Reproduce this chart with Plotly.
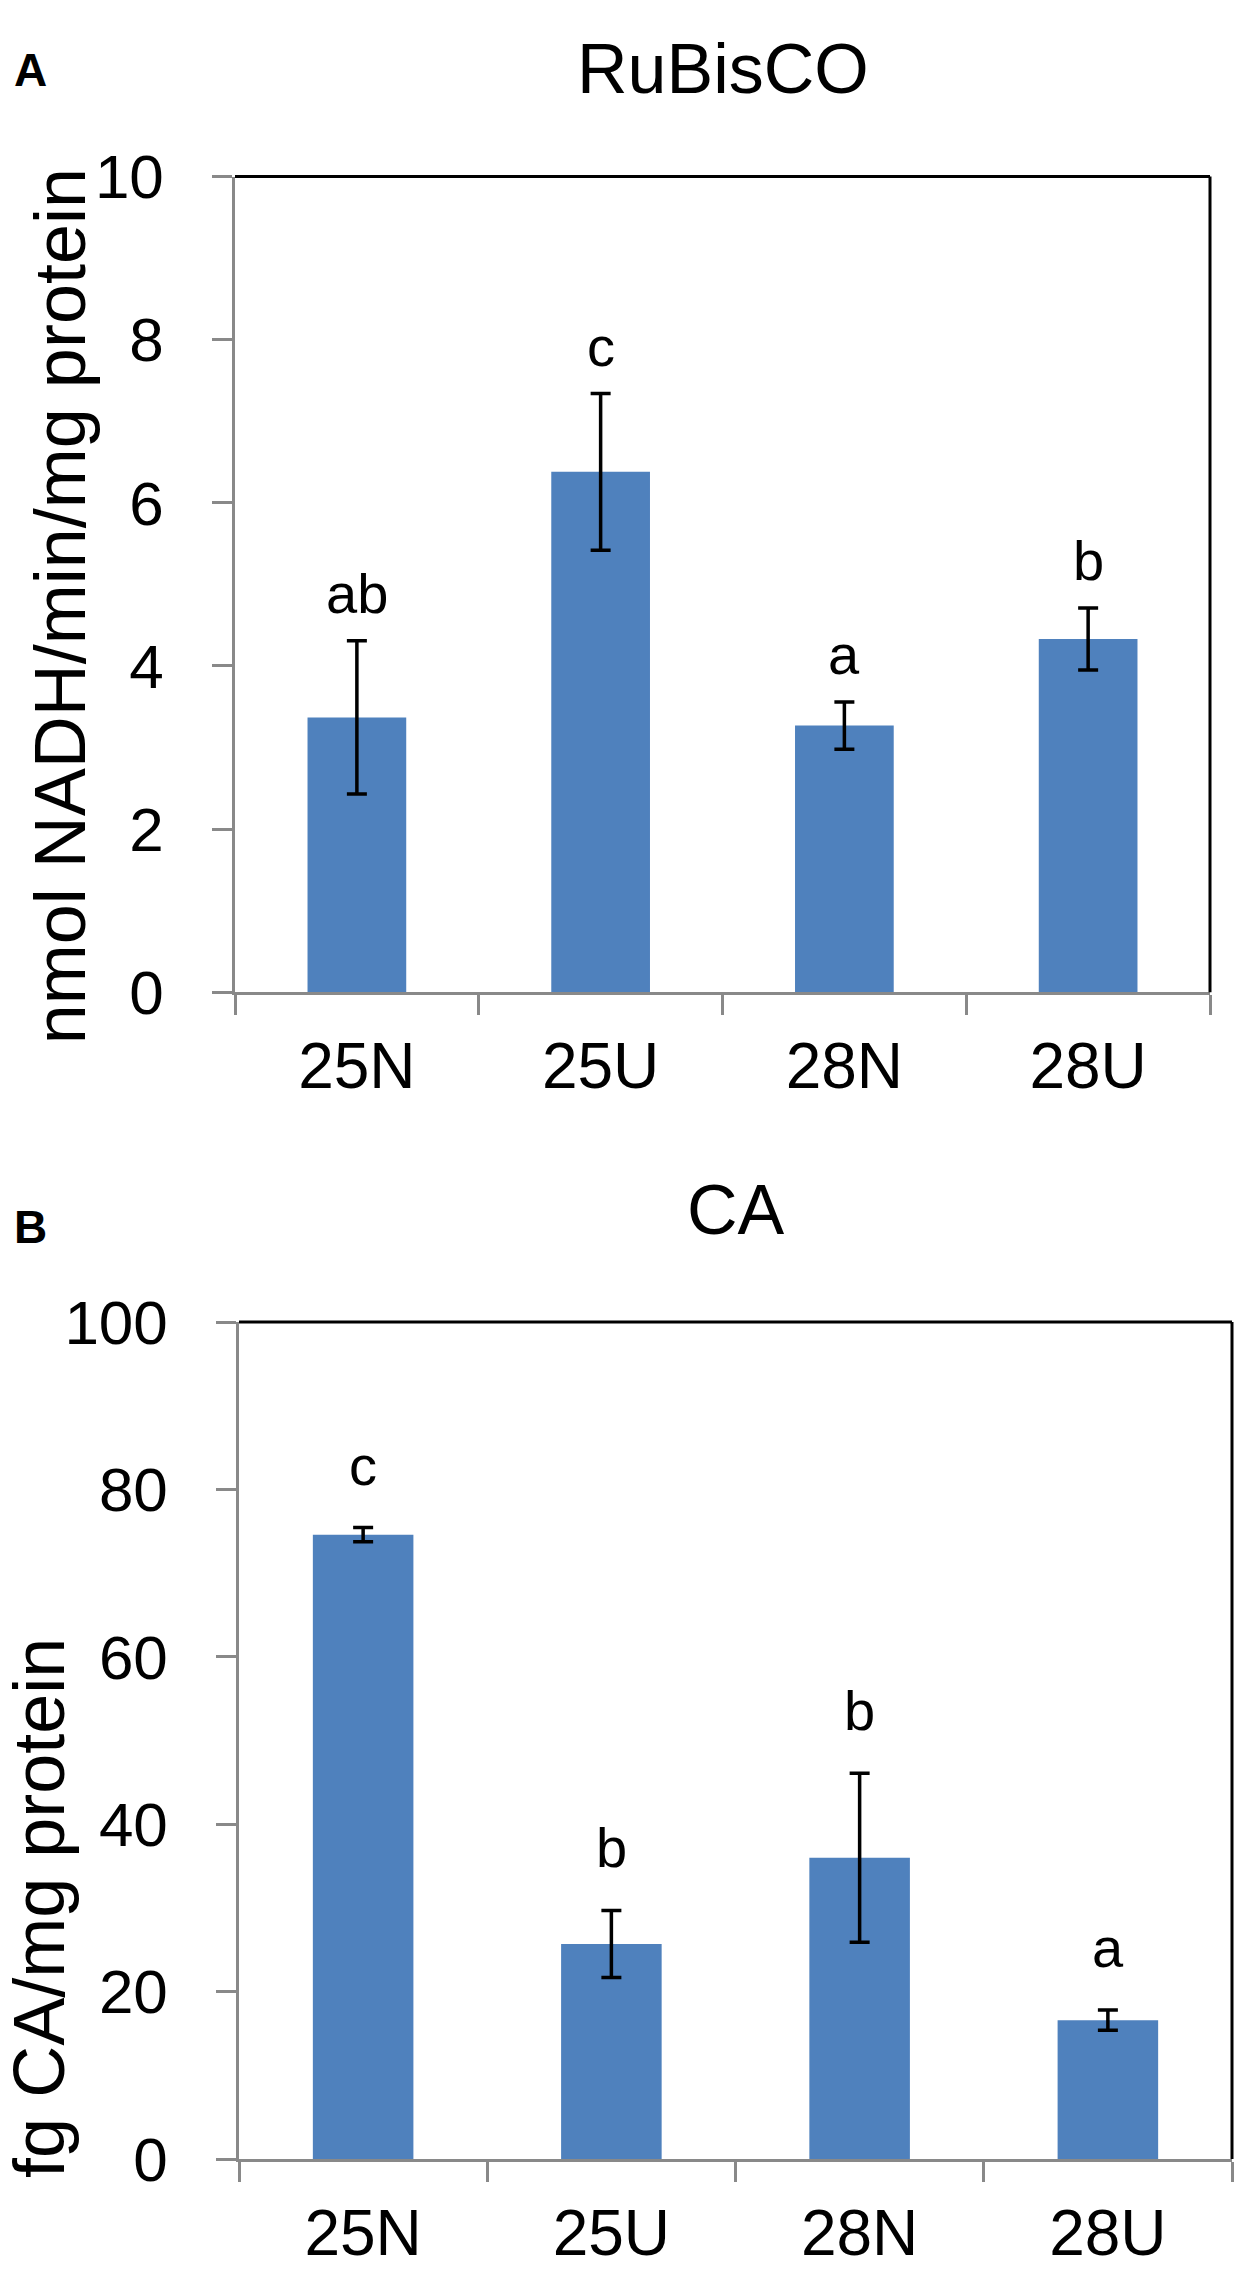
import plotly.graph_objects as go

# ---------------- data ----------------
categories = ["25N", "25U", "28N", "28U"]

rubisco_title = "RuBisCO"
rubisco_ylabel = "nmol NADH/min/mg protein"
rubisco_mean = [3.37, 6.38, 3.27, 4.33]
rubisco_err = [0.94, 0.96, 0.29, 0.38]
rubisco_letters = ["ab", "c", "a", "b"]
rubisco_ticks = [0, 2, 4, 6, 8, 10]

ca_title = "CA"
ca_ylabel = "fg CA/mg protein"
ca_mean = [74.6, 25.7, 36.0, 16.6]
ca_err = [0.85, 4.0, 10.1, 1.2]
ca_letters = ["c", "b", "b", "a"]
ca_ticks = [0, 20, 40, 60, 80, 100]

# ---------------- style ----------------
W, H = 1236, 2294
FONT = "Liberation Sans, Arial, sans-serif"
BAR = "#4F81BD"
GREY = "#898989"


def px_x(p):
    return p / W


def px_y(p):
    return 1 - p / H


# plot rectangles in pixels (left, right, top, bottom)
rectA = (235, 1210, 147, 988)
rectB = (239, 1232, 1328, 2191)

fig = go.Figure()

fig.add_trace(go.Bar(
    x=categories, y=rubisco_mean, xaxis="x", yaxis="y",
    marker=dict(color=BAR, line=dict(width=0)),
    error_y=dict(type="data", array=rubisco_err, color="black", thickness=3.5, width=10),
    showlegend=False,
))
fig.add_trace(go.Bar(
    x=categories, y=ca_mean, xaxis="x2", yaxis="y2",
    marker=dict(color=BAR, line=dict(width=0)),
    error_y=dict(type="data", array=ca_err, color="black", thickness=3.5, width=10),
    showlegend=False,
))

axis_common_x = dict(
    type="category", showline=True, linecolor=GREY, linewidth=2.5,
    ticks="outside", ticklen=20, tickwidth=2.5, tickcolor=GREY, tickson="boundaries",
    showgrid=False, zeroline=False,
    tickfont=dict(family=FONT, size=64, color="black"), ticklabelstandoff=16,
)
axis_common_y = dict(
    showline=True, linecolor=GREY, linewidth=2.5,
    ticks="outside", ticklen=20, tickwidth=2.5, tickcolor=GREY,
    showgrid=False, zeroline=False,
    tickfont=dict(family=FONT, size=62, color="black"), ticklabelstandoff=36,
)

fig.update_layout(
    width=W, height=H,
    margin=dict(l=0, r=0, t=0, b=0),
    paper_bgcolor="white", plot_bgcolor="white",
    bargap=0.595,
    font=dict(family=FONT, color="black"),
    xaxis=dict(domain=[px_x(rectA[0]), px_x(rectA[1])], anchor="y", **axis_common_x),
    yaxis=dict(domain=[px_y(rectA[3]), px_y(rectA[2])], anchor="x", range=[0, 10],
               tickvals=rubisco_ticks, **axis_common_y),
    xaxis2=dict(domain=[px_x(rectB[0]), px_x(rectB[1])], anchor="y2", **axis_common_x),
    yaxis2=dict(domain=[px_y(rectB[3]), px_y(rectB[2])], anchor="x2", range=[0, 100],
                tickvals=ca_ticks, **axis_common_y),
)

# black top and right borders
for xr, yr in (("x", "y"), ("x2", "y2")):
    fig.add_shape(type="line", xref=f"{xr} domain", yref=f"{yr} domain",
                  x0=0, x1=1, y0=1, y1=1, line=dict(color="black", width=3))
    fig.add_shape(type="line", xref=f"{xr} domain", yref=f"{yr} domain",
                  x0=1, x1=1, y0=0, y1=1, line=dict(color="black", width=3))

annotations = []
# significance letters
for xr, yr, means, errs, letters, shift in (
    ("x", "y", rubisco_mean, rubisco_err, rubisco_letters, 14),
    ("x2", "y2", ca_mean, ca_err, ca_letters, 29),
):
    for c, m, e, t in zip(categories, means, errs, letters):
        annotations.append(dict(
            x=c, y=m + e, xref=xr, yref=yr, text=t, showarrow=False,
            xanchor="center", yanchor="bottom", yshift=shift,
            font=dict(family=FONT, size=56, color="black"),
        ))

# titles
annotations.append(dict(x=px_x((rectA[0] + rectA[1]) / 2), y=px_y(36), xref="paper", yref="paper",
                        text=rubisco_title, showarrow=False, xanchor="center", yanchor="middle",
                        font=dict(family=FONT, size=70, color="black")))
annotations.append(dict(x=px_x((rectB[0] + rectB[1]) / 2), y=px_y(1212), xref="paper", yref="paper",
                        text=ca_title, showarrow=False, xanchor="center", yanchor="middle",
                        font=dict(family=FONT, size=70, color="black")))
# panel letters
annotations.append(dict(x=px_x(12), y=px_y(37), xref="paper", yref="paper", text="<b>A</b>",
                        showarrow=False, xanchor="left", yanchor="middle",
                        font=dict(family=FONT, size=46, color="black")))
annotations.append(dict(x=px_x(12), y=px_y(1230), xref="paper", yref="paper", text="<b>B</b>",
                        showarrow=False, xanchor="left", yanchor="middle",
                        font=dict(family=FONT, size=46, color="black")))
# y-axis titles
annotations.append(dict(x=px_x(60), y=px_y(590), xref="paper", yref="paper", text=rubisco_ylabel,
                        showarrow=False, textangle=-90, xanchor="center", yanchor="middle",
                        font=dict(family=FONT, size=72, color="black")))
annotations.append(dict(x=px_x(39), y=px_y(1932), xref="paper", yref="paper", text=ca_ylabel,
                        showarrow=False, textangle=-90, xanchor="center", yanchor="middle",
                        font=dict(family=FONT, size=72, color="black")))

fig.update_layout(annotations=annotations)

fig.write_html("out.html", config={"displayModeBar": False},
               post_script="document.body.style.margin='0';")
